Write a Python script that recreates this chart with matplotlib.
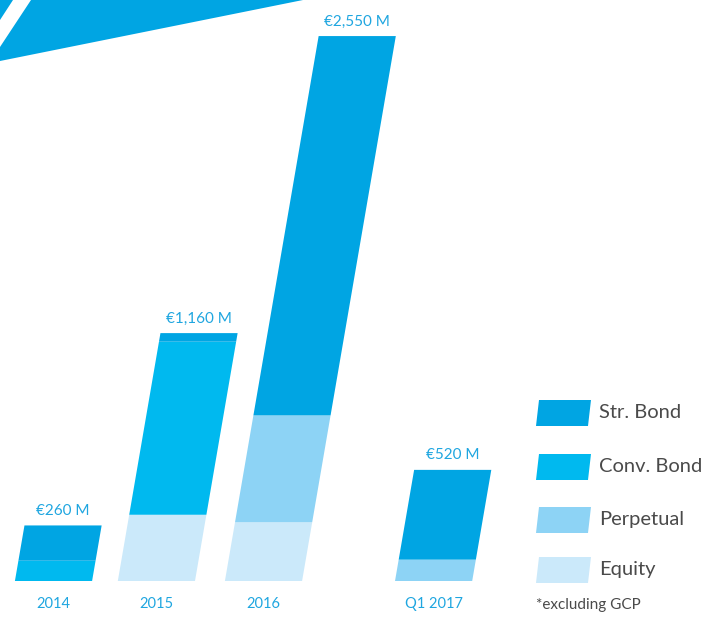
import matplotlib.pyplot as plt
from matplotlib.patches import Polygon

plt.rcParams['font.family'] = ['Lato', 'DejaVu Sans']

# data (EUR million)
years = ['2014', '2015', '2016', 'Q1 2017']
positions = [0, 0.98, 2.0, 3.62]
equity = [0, 310, 275, 0]
perpetual = [0, 0, 500, 100]
conv_bond = [95, 810, 0, 0]
str_bond = [165, 40, 1775, 420]
totals = ['€260 M', '€1,160 M', '€2,550 M', '€520 M']

series = [('Equity', equity, '#cbe9fa'),
          ('Perpetual', perpetual, '#8dd3f5'),
          ('Conv. Bond', conv_bond, '#00b9ef'),
          ('Str. Bond', str_bond, '#00a5e3')]

W, H = 717, 618
fig = plt.figure(figsize=(W / 100, H / 100), dpi=100)
ax = fig.add_axes([0, 0, 1, 1])
ax.axis('off')

# map so one x unit ~105 px, y scale ~0.2137 px per million
x0_px, unit_px = 53.5, 105.0
base_px, yscale = 37.0, 0.2137
ax.set_xlim(-x0_px / unit_px, (W - x0_px) / unit_px)
ax.set_ylim(-base_px / yscale, (H - base_px) / yscale)

width = 0.735
skew = 0.172 * yscale / unit_px  # x shift per million

for i, pos in enumerate(positions):
    bottom = 0
    for name, vals, col in series:
        v = vals[i]
        if v <= 0:
            continue
        top = bottom + v
        pts = [(pos - width / 2 + skew * bottom, bottom),
               (pos + width / 2 + skew * bottom, bottom),
               (pos + width / 2 + skew * top, top),
               (pos - width / 2 + skew * top, top)]
        ax.add_patch(Polygon(pts, closed=True, facecolor=col, edgecolor='none'))
        bottom = top
    ax.annotate(totals[i], xy=(pos + skew * bottom, bottom), xytext=(0, 10.5),
                textcoords='offset points', ha='center', va='center',
                fontsize=11, color='#1fa6e0')
    ax.annotate(years[i], xy=(pos, 0), xytext=(0, -16.5),
                textcoords='offset points', ha='center', va='center',
                fontsize=10.5, color='#1fa6e0')


def px(x, y):
    return (x / W, 1 - y / H)


# decorative band top-left
fig.patches.append(Polygon([px(31, 0), px(303, 0), px(0, 61), px(0, 47)],
                           closed=True, facecolor='#00a5e3', edgecolor='none',
                           transform=fig.transFigure))
fig.patches.append(Polygon([px(0, 0), px(13, 0), px(0, 20)],
                           closed=True, facecolor='#00a5e3', edgecolor='none',
                           transform=fig.transFigure))

# legend
leg_y = [413, 467, 520, 570]
for (name, vals, col), yc in zip(reversed(series), leg_y):
    h, s = 26, 3
    fig.patches.append(Polygon([px(536, yc + h / 2), px(588, yc + h / 2),
                                px(588 + s, yc - h / 2), px(536 + s, yc - h / 2)],
                               closed=True, facecolor=col, edgecolor='none',
                               transform=fig.transFigure))
    fig.text(*px(599, yc), name, fontsize=14.5, color='#4a4a4a', va='center', ha='left')

fig.text(*px(536, 605), '*excluding GCP', fontsize=11, color='#4a4a4a',
         va='center', ha='left')

fig.savefig('out.png', dpi=100)
